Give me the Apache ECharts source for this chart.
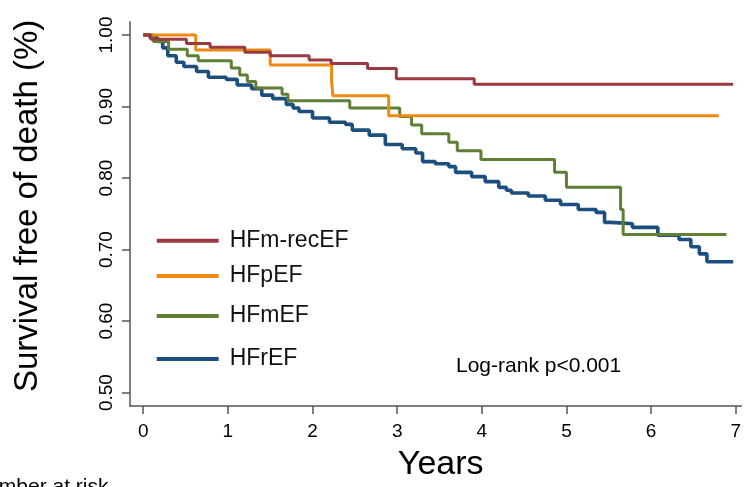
<!DOCTYPE html>
<html lang="en">

<head>
    <meta charset="UTF-8">
    <title>survival</title>
    <style>
        html,
        body,
        #chart {
            margin: 0;
            padding: 0;
            overflow: hidden;
            width: 100%;
            height: 100%;
            background: #fff;
        }
    </style>
</head>

<body>
    <div id="chart"></div>
    <script src="https://cdn.jsdelivr.net/npm/echarts@6/dist/echarts.min.js"></script>
    <script>
        // Kaplan-Meier curves: time of each step (years) and survival after it
        var groups = ["HFm-recEF", "HFpEF", "HFmEF", "HFrEF"];

        var recTime = [0, 0.09, 0.51, 0.79, 1.20, 1.50, 1.96, 2.22, 2.65, 2.99, 3.91, 6.97];
        var recSurv = [1.000, 0.994, 0.988, 0.983, 0.976, 0.971, 0.965, 0.960, 0.953, 0.939, 0.931, 0.931];

        var pTime = [0, 0.62, 1.50, 2.225, 2.24, 2.90, 6.80];
        var pSurv = [1.000, 0.979, 0.958, 0.936, 0.915, 0.887, 0.887];

        var mTime = [0, 0.12, 0.30, 0.52, 0.65, 1.04, 1.14, 1.23, 1.33, 1.64, 1.71, 2.44, 3.03, 3.17, 3.29,
            3.61, 3.71, 3.99, 4.86, 5.00, 5.64, 5.67, 6.89];
        var mSurv = [1.000, 0.991, 0.980, 0.971, 0.964, 0.954, 0.944, 0.935, 0.926, 0.917, 0.908, 0.898, 0.886, 0.874, 0.862,
            0.850, 0.838, 0.826, 0.808, 0.787, 0.756, 0.721, 0.721];

        var rTime = [0, 0.08, 0.17, 0.23, 0.29, 0.39, 0.48, 0.63, 0.77, 0.98, 1.11, 1.28, 1.40, 1.53, 1.69, 1.77, 1.84,
            2.00, 2.20, 2.39, 2.47, 2.67, 2.86, 3.06, 3.22, 3.30, 3.45, 3.61, 3.69, 3.88, 4.04, 4.20, 4.29, 4.35,
            4.55, 4.75, 4.93, 5.14, 5.35, 5.45, 5.53, 5.78, 6.08, 6.33, 6.47, 6.57, 6.66, 6.97];
        var rSurv = [1.000, 0.996, 0.991, 0.982, 0.971, 0.962, 0.956, 0.949, 0.941, 0.938, 0.930, 0.925, 0.916, 0.911, 0.903, 0.898, 0.893,
            0.884, 0.878, 0.875, 0.867, 0.860, 0.847, 0.841, 0.835, 0.823, 0.820, 0.816, 0.808, 0.802, 0.795, 0.787, 0.783, 0.779,
            0.775, 0.769, 0.763, 0.756, 0.752, 0.738, 0.736, 0.731, 0.720, 0.714, 0.704, 0.694, 0.683, 0.683];

        var xTicks = [0, 1, 2, 3, 4, 5, 6, 7];
        var yTicks = [0.5, 0.6, 0.7, 0.8, 0.9, 1.0];

        var colors = ["#9a3a40", "#ee8a12", "#5e7f34", "#1c4e7e"];
        var widths = [3, 3, 3, 3.6];
        var legendLineY = [245.7, 281, 321, 364];
        var font = "Liberation Sans, Arial, sans-serif";

        function zip(t, s) {
            var out = [];
            for (var i = 0; i < t.length; i++) out.push([t[i], s[i]]);
            return out;
        }

        var curves = [zip(recTime, recSurv), zip(pTime, pSurv), zip(mTime, mSurv), zip(rTime, rSurv)];

        var chart = echarts.init(document.getElementById("chart"));

        var series = [];
        var legends = [];
        // draw HFrEF first so the others sit on top like in the original
        for (var i = groups.length - 1; i >= 0; i--) {
            series.push({
                name: groups[i],
                type: "line",
                step: "end",
                showSymbol: false,
                data: curves[i],
                color: colors[i],
                lineStyle: { width: widths[i], color: colors[i] },
                z: 2 + (groups.length - i),
                animation: false
            });
        }
        for (var j = 0; j < groups.length; j++) {
            legends.push({
                data: [groups[j]],
                left: 151.7,
                top: legendLineY[j] - 21.5,
                icon: "rect",
                itemWidth: 62,
                itemHeight: 4,
                selectedMode: false,
                textStyle: { fontSize: 23, fontFamily: font, color: "#111", padding: [0, 0, 10, 6] }
            });
        }

        chart.setOption({
            animation: false,
            grid: { left: 130, right: 0, top: 21.7, bottom: 80.3, containLabel: false },
            legend: legends,
            xAxis: {
                type: "value",
                min: -0.1565,
                max: 7.067,
                name: "Years",
                nameLocation: "middle",
                nameGap: 42,
                nameTextStyle: { fontSize: 34, fontFamily: font, color: "#000", padding: [0, 0, 0, 10] },
                axisLine: { onZero: false, lineStyle: { color: "#555", width: 1.5 } },
                axisTick: { customValues: xTicks, length: 8, lineStyle: { color: "#555", width: 1.5 } },
                axisLabel: { customValues: xTicks, margin: 16, fontSize: 19, fontFamily: font, color: "#000" },
                splitLine: { show: false }
            },
            yAxis: {
                type: "value",
                min: 0.4813,
                max: 1.0186,
                name: "Survival free of death (%)",
                nameLocation: "middle",
                nameRotate: 90,
                nameGap: 86,
                nameTextStyle: { fontSize: 33, fontFamily: font, color: "#000", padding: [0, 0, 0, 16] },
                axisLine: { onZero: false, lineStyle: { color: "#555", width: 1.5 } },
                axisTick: { customValues: yTicks, length: 8, lineStyle: { color: "#555", width: 1.5 } },
                axisLabel: {
                    customValues: yTicks,
                    rotate: 90,
                    margin: 14,
                    fontSize: 19,
                    fontFamily: font,
                    color: "#000",
                    formatter: function (v) { return v.toFixed(2); }
                },
                splitLine: { show: false }
            },
            graphic: [{
                type: "text",
                left: 456,
                top: 356,
                style: { text: "Log-rank p<0.001", fontSize: 21, fontFamily: font, fill: "#000" }
            }, {
                type: "text",
                x: -28,
                y: 477,
                style: { text: "Number at risk", fontSize: 21, fontFamily: font, fill: "#000" }
            }],
            series: series
        });
    </script>
</body>

</html>
